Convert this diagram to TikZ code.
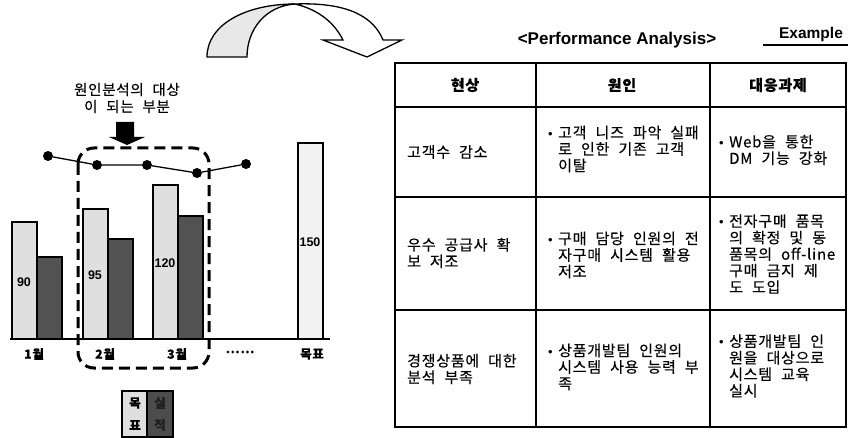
\documentclass[tikz,border=0pt]{standalone}
\usepackage{fontspec}
\setmainfont{Noto Sans CJK KR}[WordSpace=2.2, LetterSpace=5, FakeBold=0.25]
\newfontfamily\arialfont{Liberation Sans}
\usetikzlibrary{calc,positioning}

\newcommand{\bul}{\makebox[10pt][l]{\arialfont\fontsize{13}{13}\selectfont\textbullet}}
\newcommand{\ind}{\hspace*{10pt}}

\tikzset{
  tbar/.style={draw=black,line width=1.6pt,fill=gray!25},
  abar/.style={draw=black,line width=1.6pt,fill=black!68},
  dot/.style={circle,fill=black,inner sep=0pt,minimum size=10pt},
  vallbl/.style={font=\arialfont\bfseries\fontsize{12.5}{12.5}\selectfont,inner sep=0pt},
  monlbl/.style={font=\bfseries\fontsize{12.5}{12.5}\selectfont,inner sep=0pt},
  cell/.style={anchor=west,align=left,inner sep=0pt,font=\fontsize{15}{16.5}\selectfont},
  headtxt/.style={inner sep=0pt,font=\bfseries\fontsize{15}{16}\selectfont},
  tline/.style={line width=1.4pt},
}

\begin{document}
\begin{tikzpicture}[x=1pt,y=-1pt]
				\useasboundingbox (0,0) rectangle (848,438);
				
				% curved arrow on top
				\filldraw[fill=gray!18, line width=1.3pt]
				(207,57) .. controls (207,25) and (245,4) .. (295,4)
				.. controls (265,6) and (247,30) .. (247,57) -- cycle;
				\filldraw[fill=white, line width=1.3pt]
				(295,4) .. controls (350,2) and (374,18) .. (383,40) -- (402,40) -- (367,57)
				-- (323,40) -- (343,40) .. controls (335,24) and (320,10) .. (295,4) -- cycle;
				
				% bar chart
				\foreach \xl/\tt/\ta in {12/222/257, 83/209/239, 153/185/216}{
					\draw[tbar] (\xl,\tt) rectangle (\xl+25,339);
					\draw[abar] (\xl+25,\ta) rectangle (\xl+50,339);}
				\draw[draw=black,line width=1.6pt,fill=gray!10] (298,143) rectangle (323,339);
				\draw[line width=1.6pt] (10,339) -- (330,339);
				
				\node[vallbl] (v1) at (24,282) {90};
				\node[vallbl] (v2) at (95,275) {95};
				\node[vallbl] (v3) at (165,263) {120};
				\node[vallbl] (v4) at (310,242) {150};
				
				\node[monlbl] (m1) at (34,354) {1월};
				\node[monlbl] (m2) at (105,354) {2월};
				\node[monlbl] (m3) at (177,354) {3월};
				\node[monlbl] (m4) at (240,352) {……};
				\node[monlbl] (m5) at (312,354) {목표};
				
				% focus area
				\draw[line width=3pt, dash pattern=on 11pt off 6pt, rounded corners=16pt]
				(78,148) rectangle (209,368);
				
				% trend line
				\node[dot] (p1) at (48,156) {};
				\node[dot] (p2) at (97,165) {};
				\node[dot] (p3) at (147,165) {};
				\node[dot] (p4) at (197,173) {};
				\node[dot] (p5) at (246,164) {};
				\draw[line width=1.3pt] (p1) -- (p2) -- (p3) -- (p4) -- (p5);
				
				% caption and pointer
				\node[font=\fontsize{14.5}{17}\selectfont, align=center] (cap) at (127,98) {원인분석의 대상\\이 되는 부분};
				\fill (116,122) -- (134,122) -- (134,137) -- (145,137) -- (127,145) -- (109,137) -- (116,137) -- cycle;
				
				% legend
				\fill[gray!25] (122,391) rectangle (147,437);
				\fill[black!70] (147,391) rectangle (173,437);
				\draw[line width=1.4pt] (122,391) rectangle (173,437) (147,391) -- (147,437);
				\node[monlbl] (l1) at (135,403) {목};
				\node[monlbl] (l2) at (135,425) {표};
				\node[monlbl, text=black!88] (l3) at (160,403) {실};
				\node[monlbl, text=black!88] (l4) at (160,425) {적};
				
				% title
				\node[font=\arialfont\bfseries\fontsize{17}{17}\selectfont] (ttl) at (617,40) {<Performance Analysis>};
				\node[font=\arialfont\bfseries\fontsize{15.5}{16}\selectfont] (ex) at (811,34) {Example};
				\draw[line width=1.2pt] (763,45) -- (848,45);
				
				% table
				\draw[line width=1.8pt] (395,63) rectangle (846,427);
				\foreach \y in {107,197,310}{
					\draw[tline] (395,\y) -- (846,\y);}
				\foreach \x in {536,710}{
					\draw[tline] (\x,63) -- (\x,427);}
				
				\node[headtxt] (h1) at (465,85) {현상};
				\node[headtxt] (h2) at (622,85) {원인};
				\node[headtxt] (h3) at (778,85) {대응과제};
				
				\node[cell] (c11) at (407,152) {고객수 감소};
				\node[cell] (c12) at (548,149) {\bul 고객 니즈 파악 실패\\\ind 로 인한 기존 고객\\\ind 이탈};
				\node[cell] (c13) at (719,150) {\bul Web을 통한\\\ind DM 기능 강화};
				
				\node[cell] (c21) at (407,253) {우수 공급사 확\\보 저조};
				\node[cell] (c22) at (548,255) {\bul 구매 담당 인원의 전\\\ind 자구매 시스템 활용\\\ind 저조};
				\node[cell] (c23) at (719,254) {\bul 전자구매 품목\\\ind 의 확정 및 동\\\ind 품목의 off-line\\\ind 구매 금지 제\\\ind 도 도입};
				
				\node[cell] (c31) at (407,369) {경쟁상품에 대한\\분석 부족};
				\node[cell] (c32) at (548,367) {\bul 상품개발팀 인원의\\\ind 시스템 사용 능력 부\\\ind 족};
				\node[cell] (c33) at (719,366) {\bul 상품개발팀 인\\\ind 원을 대상으로\\\ind 시스템 교육\\\ind 실시};
			\end{tikzpicture}
\end{document}
